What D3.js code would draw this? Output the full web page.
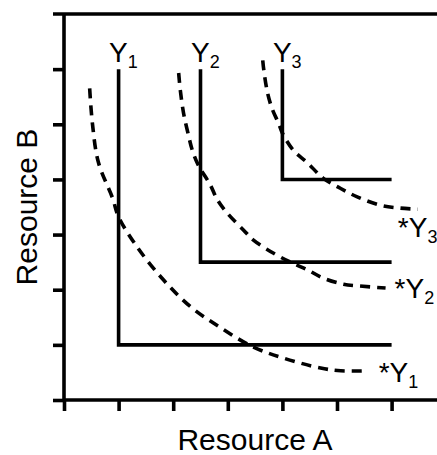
<!DOCTYPE html>
<html>
<head>
<meta charset="utf-8">
<script src="https://cdn.jsdelivr.net/npm/d3@7"></script>
<style>
  html, body { margin: 0; padding: 0; background: #fff; }
  svg { display: block; }
  text { font-family: "Liberation Sans", Arial, Helvetica, sans-serif; fill: #000; }
</style>
</head>
<body>
<svg id="chart" width="437" height="455"></svg>
<script>
// ---- data ----
const xTicks = [0, 1, 2, 3, 4, 5, 6];
const yTicks = [0, 1, 2, 3, 4, 5, 6];
const isoquantSubs = ["1", "2", "3"];
const cornerA = [1, 2.5, 4];      // Resource A at the corner of each L-shaped isoquant
const cornerB = [1, 2.5, 4];      // Resource B at the corner
const topB = [6, 6, 6];           // top of vertical arm
const endA = [6, 6, 6];           // end of horizontal arm
const curveY1 = [[0.47,5.65],[0.52,5.02],[0.63,4.31],[0.89,3.66],[1.0,3.32],[1.35,2.76],[1.82,2.18],[2.32,1.69],[2.87,1.31],[3.47,0.96],[4.02,0.76],[4.70,0.58],[5.07,0.53],[5.58,0.53]];
const curveY2 = [[2.10,5.93],[2.13,5.62],[2.19,5.20],[2.28,4.80],[2.35,4.53],[2.46,4.26],[2.68,3.90],[2.81,3.63],[2.99,3.39],[3.29,3.08],[3.47,2.90],[3.84,2.66],[4.19,2.48],[4.46,2.36],[4.75,2.21],[5.12,2.10],[5.38,2.07],[5.89,2.03]];
const curveY3 = [[3.64,6.16],[3.66,5.98],[3.73,5.56],[3.82,5.26],[3.93,5.02],[4.00,4.84],[4.20,4.53],[4.46,4.30],[4.75,4.02],[5.06,3.84],[5.38,3.68],[5.80,3.53],[6.16,3.48],[6.48,3.46]];
const curves = [curveY1, curveY2, curveY3];
const xTitle = "Resource A";
const yTitle = "Resource B";

// ---- drawing ----
const svg = d3.select("#chart");
const x = d3.scaleLinear().domain([0, 6.85]).range([64, 438]);
const y = d3.scaleLinear().domain([0, 7]).range([400, 14]);
const SW = 3.6;

// top frame line
svg.append("line")
  .attr("x1", 53).attr("x2", 437)
  .attr("y1", y(7)).attr("y2", y(7))
  .attr("stroke", "#000").attr("stroke-width", SW);

// axes
const xAxis = d3.axisBottom(x).tickValues(xTicks).tickSize(11).tickSizeOuter(0).tickFormat("");
const yAxis = d3.axisLeft(y).tickValues(yTicks).tickSize(11).tickSizeOuter(0).tickFormat("");
const gx = svg.append("g").attr("transform", `translate(0,${y(0)})`).call(xAxis);
const gy = svg.append("g").attr("transform", `translate(${x(0)},0)`).call(yAxis);
[gx, gy].forEach(g => {
  g.selectAll("path.domain").attr("stroke", "#000").attr("stroke-width", SW);
  g.selectAll(".tick line").attr("stroke", "#000").attr("stroke-width", SW);
});
// extend bottom axis to right edge
gx.select("path.domain").attr("d", `M${x(0)},0H437`);
gy.select("path.domain").attr("d", `M0,${y(0)}V${y(7)}`);

// L-shaped isoquants
cornerA.forEach((a, i) => {
  const path = d3.path();
  path.moveTo(x(a), y(topB[i]));
  path.lineTo(x(a), y(cornerB[i]));
  path.lineTo(x(endA[i]), y(cornerB[i]));
  svg.append("path")
    .attr("d", path.toString())
    .attr("fill", "none").attr("stroke", "#000")
    .attr("stroke-width", SW).attr("stroke-linejoin", "miter");
  const t = svg.append("text")
    .attr("x", x(a) - 9.5).attr("y", y(topB[i]) - 7)
    .attr("font-size", 28);
  t.append("tspan").text("Y");
  t.append("tspan").attr("font-size", 18).attr("dy", 6).text(isoquantSubs[i]);
});

// dashed curves
const line = d3.line().x(d => x(d[0])).y(d => y(d[1])).curve(d3.curveCatmullRom.alpha(0.5));
const labelOffsets = [[10, 11], [9, 10], [-20, 28]];
curves.forEach((c, i) => {
  svg.append("path")
    .attr("d", line(c))
    .attr("fill", "none").attr("stroke", "#000")
    .attr("stroke-width", SW).attr("stroke-dasharray", "10,7");
  const last = c[c.length - 1];
  const t = svg.append("text")
    .attr("x", x(last[0]) + labelOffsets[i][0])
    .attr("y", y(last[1]) + labelOffsets[i][1])
    .attr("font-size", 28);
  t.append("tspan").text("*Y");
  t.append("tspan").attr("font-size", 18).attr("dy", 6).text(isoquantSubs[i]);
});

// axis titles
svg.append("text")
  .attr("x", 255).attr("y", 450)
  .attr("text-anchor", "middle").attr("font-size", 30)
  .text(xTitle);
svg.append("text")
  .attr("transform", `translate(37,${(y(0) + y(7)) / 2}) rotate(-90)`)
  .attr("text-anchor", "middle").attr("font-size", 30)
  .text(yTitle);
</script>
</body>
</html>
